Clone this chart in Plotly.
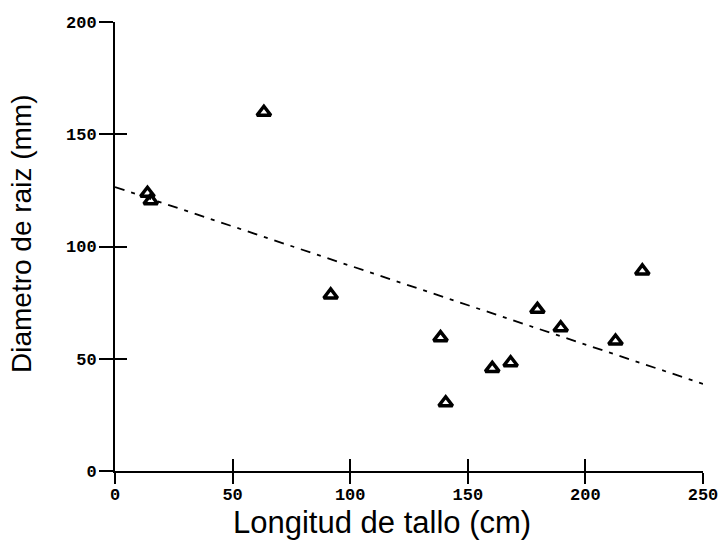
import plotly.graph_objects as go

# Data
longitud = [13.8, 15.2, 63.3, 91.7, 138.4, 140.6, 160.4, 168.2, 179.6, 189.5, 212.8, 224.2]
diametro = [123.7, 120.4, 159.8, 78.4, 59.4, 30.4, 45.7, 48.2, 72.0, 63.8, 57.9, 89.1]
fit_x = [0, 250]
fit_y = [126.5, 38.8]
x_ticks = [0, 50, 100, 150, 200, 250]
y_ticks = [0, 50, 100, 150, 200]

tick_font = dict(family="Liberation Mono", size=17, color="black", weight="bold")

fig = go.Figure()
fig.add_trace(go.Scatter(
    x=fit_x, y=fit_y, mode="lines",
    line=dict(color="black", width=1.8, dash="10px,7px,4px,7px"),
    showlegend=False, hoverinfo="skip"))
fig.add_trace(go.Scatter(
    x=longitud, y=diametro, mode="markers",
    marker=dict(symbol="triangle-up-open", size=12, color="black",
                line=dict(color="black", width=3.5)),
    showlegend=False))

axis_common = dict(showgrid=False, zeroline=False, showline=True,
                   linecolor="black", linewidth=2, tickcolor="black",
                   tickwidth=2, tickmode="array", automargin=False)

fig.update_layout(
    width=720, height=551,
    margin=dict(l=115, r=17, t=22, b=80),
    paper_bgcolor="white", plot_bgcolor="white",
    xaxis=dict(range=[0, 250], tickvals=x_ticks, ticktext=[str(v) for v in x_ticks],
               ticks="outside", ticklen=11, tickfont=tick_font, ticklabelstandoff=-4,
               **axis_common),
    yaxis=dict(range=[0, 200], tickvals=y_ticks, ticktext=[str(v) for v in y_ticks],
               ticks="outside", ticklen=14, tickfont=tick_font, ticklabelstandoff=-1,
               **axis_common),
    xaxis2=dict(range=[0, 250], tickvals=x_ticks, overlaying="x", side="bottom",
                ticks="inside", ticklen=12, showticklabels=False, anchor="y",
                **axis_common),
    yaxis2=dict(range=[0, 200], tickvals=y_ticks, overlaying="y", side="left",
                ticks="inside", ticklen=12, showticklabels=False, anchor="x",
                **axis_common),
    annotations=[
        dict(text="Longitud de tallo (cm)", xref="paper", yref="paper",
             x=0.454, y=-0.114, xanchor="center", yanchor="middle",
             showarrow=False, font=dict(family="Liberation Sans", size=31, color="black")),
        dict(text="Diametro de raiz (mm)", xref="paper", yref="paper",
             x=-0.158, y=0.528, xanchor="center", yanchor="middle", textangle=-90,
             showarrow=False, font=dict(family="Liberation Sans", size=28, color="black")),
    ],
)
# invisible trace to activate the secondary (inside-tick) axes
fig.add_trace(go.Scatter(x=[None], y=[None], xaxis="x2", yaxis="y2",
                         showlegend=False, hoverinfo="skip"))

fig.write_html("out.html")
